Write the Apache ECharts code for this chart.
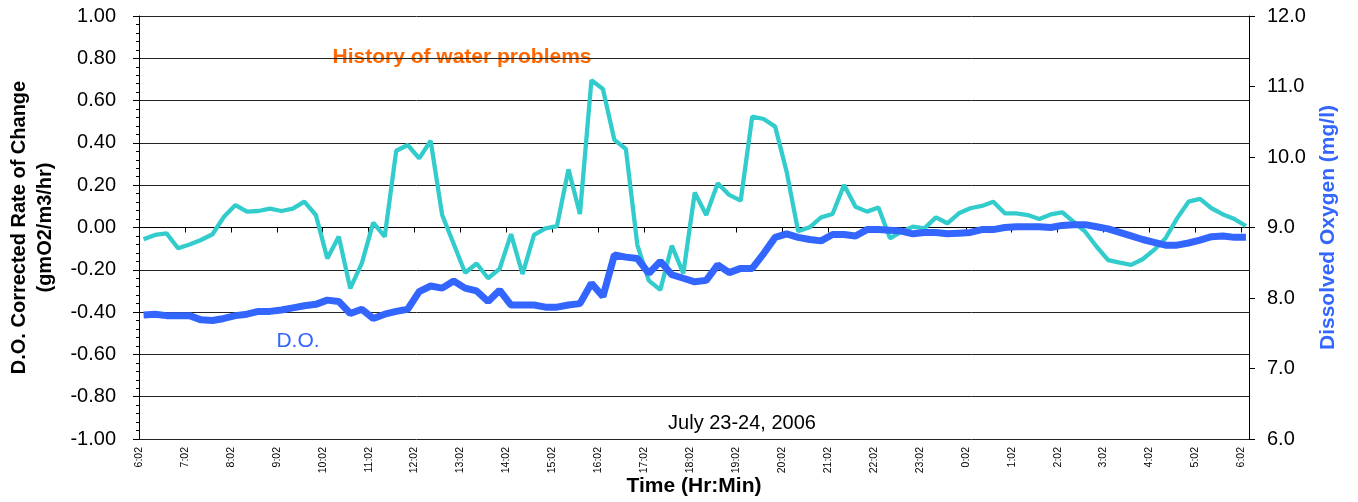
<!DOCTYPE html>
<html>
<head>
<meta charset="utf-8">
<title>D.O. rate of change</title>
<script src="https://cdn.jsdelivr.net/npm/echarts@6/dist/echarts.min.js"></script>
<style>
  html, body { margin: 0; padding: 0; background: #fff; }
  #chart { width: 1358px; height: 502px; }
</style>
</head>
<body>
<div id="chart"></div>
<script>
// hour ticks on the time axis (0 = 6:02 on July 23)
const timeLabels = ['6:02', '7:02', '8:02', '9:02', '10:02', '11:02', '12:02', '13:02', '14:02',
  '15:02', '16:02', '17:02', '18:02', '19:02', '20:02', '21:02', '22:02', '23:02', '0:02',
  '1:02', '2:02', '3:02', '4:02', '5:02', '6:02'];

// readings every 15 min, first one at 6:08
const firstReading = 6 / 60;
const readingStep = 0.25;

// D.O. corrected rate of change (gmO2/m3/hr)
const rateValues = [
  -0.056, -0.035, -0.028, -0.098, -0.080, -0.059, -0.032, 0.051, 0.106, 0.075,
  0.078, 0.089, 0.078, 0.089, 0.122, 0.059, -0.146, -0.043, -0.288, -0.170,
  0.023, -0.043, 0.363, 0.390, 0.327, 0.410, 0.059, -0.077, -0.214, -0.170,
  -0.240, -0.196, -0.031, -0.220, -0.035, -0.004, 0.007, 0.275, 0.064, 0.697,
  0.655, 0.414, 0.371, -0.083, -0.251, -0.295, -0.086, -0.217, 0.165, 0.059,
  0.209, 0.154, 0.127, 0.524, 0.513, 0.477, 0.264, -0.017, 0.001, 0.048,
  0.064, 0.201, 0.098, 0.075, 0.095, -0.051, -0.020, 0.004, -0.004, 0.048,
  0.020, 0.067, 0.091, 0.102, 0.122, 0.067, 0.067, 0.059, 0.040, 0.062,
  0.072, 0.027, -0.020, -0.091, -0.154, -0.166, -0.177, -0.150, -0.106, -0.051,
  0.043, 0.122, 0.135, 0.091, 0.062, 0.040, 0.007
];

// dissolved oxygen (mg/l)
const doValues = [
  7.76, 7.77, 7.75, 7.75, 7.75, 7.69, 7.68, 7.71, 7.75, 7.77,
  7.81, 7.81, 7.83, 7.86, 7.89, 7.91, 7.97, 7.95, 7.78, 7.84,
  7.71, 7.77, 7.81, 7.84, 8.09, 8.17, 8.14, 8.24, 8.14, 8.10,
  7.95, 8.11, 7.90, 7.90, 7.90, 7.87, 7.87, 7.90, 7.92, 8.21,
  8.02, 8.61, 8.58, 8.56, 8.35, 8.52, 8.33, 8.28, 8.23, 8.25,
  8.47, 8.36, 8.42, 8.42, 8.63, 8.86, 8.91, 8.86, 8.83, 8.81,
  8.90, 8.90, 8.88, 8.97, 8.97, 8.96, 8.95, 8.91, 8.93, 8.93,
  8.91, 8.92, 8.93, 8.97, 8.97, 9.00, 9.01, 9.01, 9.01, 9.00,
  9.03, 9.04, 9.04, 9.01, 8.98, 8.93, 8.88, 8.83, 8.79, 8.75,
  8.75, 8.78, 8.82, 8.87, 8.88, 8.86, 8.86
];

const FONT = 'Arial, "Liberation Sans", sans-serif';
const BLUE = '#3366ff';

function withTime(values) {
  return values.map((v, i) => [firstReading + i * readingStep, v]);
}

const chart = echarts.init(document.getElementById('chart'));

chart.setOption({
  animation: false,
  backgroundColor: '#fff',
  textStyle: { fontFamily: FONT },
  grid: { left: 139, right: 109, top: 16, bottom: 63, containLabel: false, outerBoundsMode: 'none' },
  xAxis: {
    type: 'value',
    min: 0,
    max: 24 + 10 / 60,
    interval: 1,
    name: 'Time (Hr:Min)',
    nameLocation: 'middle',
    nameGap: 37,
    nameMoveOverlap: false,
    nameTextStyle: { fontSize: 21, fontWeight: 'bold', color: '#000', fontFamily: FONT },
    axisLine: { lineStyle: { color: '#000', width: 1 } },
    axisTick: { length: 5, lineStyle: { color: '#000' } },
    splitLine: { show: false },
    axisLabel: {
      rotate: 90,
      fontSize: 10.5,
      margin: 8,
      color: '#000',
      fontFamily: FONT,
      formatter: v => {
        const r = Math.round(v);
        return Math.abs(v - r) < 1e-6 ? timeLabels[r] : '';
      }
    }
  },
  yAxis: [
    {
      type: 'value',
      position: 'left',
      min: -1,
      max: 1,
      interval: 0.2,
      name: 'D.O. Corrected Rate of Change\n(gmO2/m3/hr)',
      nameLocation: 'middle',
      nameGap: 81,
      nameRotate: 90,
      nameTextStyle: { fontSize: 20, fontWeight: 'bold', color: '#000', lineHeight: 26, fontFamily: FONT },
      axisLine: { show: true, lineStyle: { color: '#000' } },
      axisTick: { show: true, length: 6, lineStyle: { color: '#000' } },
      minorTick: { show: true, splitNumber: 5, length: 3, lineStyle: { color: '#000' } },
      splitLine: { show: true, lineStyle: { color: '#222', width: 1 } },
      axisLabel: {
        fontSize: 20,
        margin: 23,
        color: '#000',
        fontFamily: FONT,
        formatter: v => (Math.abs(v) < 1e-9 ? 0 : v).toFixed(2)
      }
    },
    {
      type: 'value',
      position: 'right',
      min: 6,
      max: 12,
      interval: 1,
      name: 'Dissolved Oxygen (mg/l)',
      nameLocation: 'middle',
      nameGap: 69,
      nameRotate: 90,
      nameTextStyle: { fontSize: 21, fontWeight: 'bold', color: BLUE, fontFamily: FONT },
      axisLine: { show: true, lineStyle: { color: '#000' } },
      axisTick: { show: true, length: 6, lineStyle: { color: '#000' } },
      splitLine: { show: false },
      axisLabel: {
        fontSize: 20,
        margin: 18,
        color: '#000',
        fontFamily: FONT,
        formatter: v => v.toFixed(1)
      }
    }
  ],
  graphic: [
    {
      type: 'text', z: -1,
      style: { x: 462, y: 57, text: 'History of water problems', fill: '#ff6600',
        font: 'bold 21px ' + FONT, textAlign: 'center', textVerticalAlign: 'middle' }
    },
    {
      type: 'text',
      style: { x: 298, y: 341, text: 'D.O.', fill: BLUE,
        font: '21px ' + FONT, textAlign: 'center', textVerticalAlign: 'middle' }
    },
    {
      type: 'text',
      style: { x: 742, y: 423, text: 'July 23-24, 2006', fill: '#000',
        font: '20px ' + FONT, textAlign: 'center', textVerticalAlign: 'middle' }
    }
  ],
  series: [
    {
      name: 'Rate of change',
      type: 'line',
      yAxisIndex: 0,
      data: withTime(rateValues),
      showSymbol: false,
      symbol: 'none',
      lineStyle: { color: '#33cccc', width: 4.3 },
      z: 2
    },
    {
      name: 'D.O.',
      type: 'line',
      yAxisIndex: 1,
      data: withTime(doValues),
      showSymbol: false,
      symbol: 'none',
      lineStyle: { color: BLUE, width: 7 },
      z: 3
    }
  ]
});
</script>
</body>
</html>
